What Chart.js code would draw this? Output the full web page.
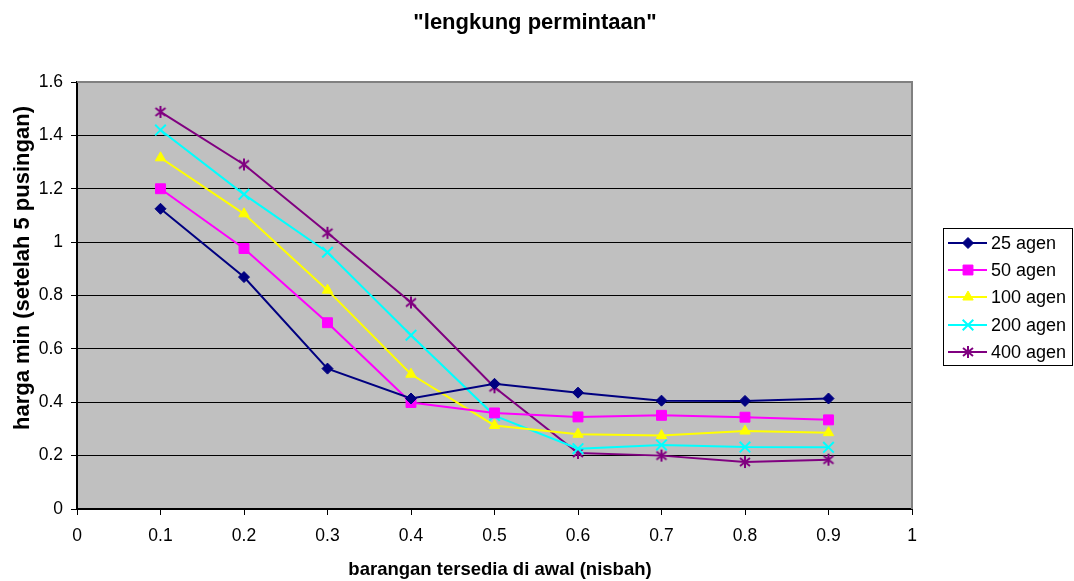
<!DOCTYPE html>
<html>
<head>
<meta charset="utf-8">
<script src="https://cdn.jsdelivr.net/npm/chart.js@4"></script>
<style>
html,body{margin:0;padding:0;background:#fff;}
#wrap{width:1074px;height:581px;position:relative;}
</style>
</head>
<body>
<div id="wrap"><canvas id="c" width="1074" height="581"></canvas></div>
<script>
const xValues = [0.1, 0.2, 0.3, 0.4, 0.5, 0.6, 0.7, 0.8, 0.9];
const seriesNames = ["25 agen", "50 agen", "100 agen", "200 agen", "400 agen"];
const agen25  = [1.125, 0.869, 0.526, 0.414, 0.469, 0.436, 0.406, 0.405, 0.414];
const agen50  = [1.200, 0.976, 0.698, 0.399, 0.360, 0.345, 0.351, 0.344, 0.334];
const agen100 = [1.316, 1.106, 0.820, 0.505, 0.313, 0.280, 0.275, 0.292, 0.286];
const agen200 = [1.420, 1.179, 0.962, 0.651, 0.350, 0.226, 0.240, 0.232, 0.231];
const agen400 = [1.488, 1.291, 1.035, 0.774, 0.456, 0.210, 0.200, 0.176, 0.185];
const titleText = '"lengkung permintaan"';
const xTitle = "barangan tersedia di awal (nisbah)";
const yTitle = "harga min (setelah 5 pusingan)";

const FONT = "'Liberation Sans', Arial, sans-serif";

function makeAsterisk(color) {
  const c = document.createElement("canvas");
  c.width = 14; c.height = 14;
  const g = c.getContext("2d");
  g.strokeStyle = color;
  g.lineWidth = 2;
  g.beginPath();
  g.moveTo(7, 1); g.lineTo(7, 13);
  g.moveTo(2, 3); g.lineTo(12, 11);
  g.moveTo(12, 3); g.lineTo(2, 11);
  g.stroke();
  return c;
}

const colors = ["#000080", "#FF00FF", "#FFFF00", "#00FFFF", "#800080"];
const styles = ["rectRot", "rect", "triangle", "crossRot", makeAsterisk("#800080")];
const radii = [5.5, 7, 6, 7.5, 7];
const allSeries = [agen25, agen50, agen100, agen200, agen400];

const datasets = allSeries.map((s, i) => ({
  label: seriesNames[i],
  data: s.map((v, j) => ({x: xValues[j], y: v})),
  borderColor: colors[i],
  backgroundColor: colors[i],
  pointBackgroundColor: colors[i],
  pointBorderColor: colors[i],
  pointStyle: styles[i],
  pointRadius: radii[i],
  pointBorderWidth: i === 3 ? 2 : 1,
  borderWidth: 2,
  tension: 0,
  fill: false
}));

const bgPlugin = {
  id: "bg",
  beforeDraw(chart) {
    const {ctx, chartArea: a} = chart;
    ctx.save();
    ctx.fillStyle = "#C0C0C0";
    ctx.fillRect(a.left, a.top, a.right - a.left, a.bottom - a.top);
    ctx.restore();
  },
  afterDatasetsDraw(chart) {
    const {ctx, chartArea: a} = chart;
    ctx.save();
    ctx.strokeStyle = "#808080";
    ctx.lineWidth = 2;
    ctx.beginPath();
    ctx.moveTo(a.left, a.top);
    ctx.lineTo(a.right, a.top);
    ctx.lineTo(a.right, a.bottom);
    ctx.stroke();
    ctx.restore();
  }
};

const textPlugin = {
  id: "texts",
  afterDraw(chart) {
    const ctx = chart.ctx;
    ctx.save();
    ctx.fillStyle = "#000";
    ctx.textAlign = "center";
    ctx.textBaseline = "alphabetic";
    ctx.font = "bold 22px " + FONT;
    ctx.fillText(titleText, 535, 29);
    ctx.font = "bold 18.5px " + FONT;
    ctx.fillText(xTitle, 500, 575);
    ctx.translate(29, 268);
    ctx.rotate(-Math.PI / 2);
    ctx.font = "bold 22px " + FONT;
    ctx.fillText(yTitle, 0, 0);
    ctx.restore();
  }
};

const legendPlugin = {
  id: "customLegend",
  afterDraw(chart) {
    const ctx = chart.ctx;
    const bx = 943, by = 228, bw = 130, bh = 138;
    ctx.save();
    ctx.fillStyle = "#fff";
    ctx.fillRect(bx, by, bw, bh);
    ctx.strokeStyle = "#000";
    ctx.lineWidth = 1;
    ctx.strokeRect(bx + 0.5, by + 0.5, bw - 1, bh - 1);
    const ys = [243, 270, 297, 325, 352];
    chart.data.datasets.forEach((ds, i) => {
      const y = ys[i];
      ctx.strokeStyle = ds.borderColor;
      ctx.lineWidth = 2;
      ctx.beginPath();
      ctx.moveTo(948, y);
      ctx.lineTo(987, y);
      ctx.stroke();
      ctx.fillStyle = ds.pointBackgroundColor;
      ctx.strokeStyle = ds.pointBorderColor;
      ctx.lineWidth = ds.pointBorderWidth;
      Chart.helpers.drawPoint(ctx, {
        pointStyle: ds.pointStyle,
        radius: ds.pointRadius,
        borderWidth: ds.pointBorderWidth,
        rotation: 0
      }, 968, y);
      ctx.fillStyle = "#000";
      ctx.font = "18px " + FONT;
      ctx.textBaseline = "middle";
      ctx.textAlign = "left";
      ctx.fillText(ds.label, 991, y + 1);
    });
    ctx.restore();
  }
};

new Chart(document.getElementById("c"), {
  type: "line",
  data: {datasets},
  plugins: [bgPlugin, legendPlugin, textPlugin],
  options: {
    responsive: false,
    animation: false,
    devicePixelRatio: 1,
    layout: {padding: {left: 0, right: 162, top: 82, bottom: 0}},
    plugins: {
      legend: {display: false},
      tooltip: {enabled: false},
      title: {display: false}
    },
    scales: {
      x: {
        type: "linear",
        min: 0, max: 1,
        afterFit(scale) { scale.height = 72; },
        ticks: {
          stepSize: 0.1,
          color: "#000",
          font: {family: FONT, size: 17.5},
          padding: 11,
          maxRotation: 0,
          autoSkip: false,
          callback: v => (Math.round(v * 10) / 10).toString()
        },
        grid: {drawOnChartArea: false, drawTicks: true, tickLength: 6, color: "#000"},
        border: {color: "#000", width: 2}
      },
      y: {
        min: 0, max: 1.6,
        afterFit(scale) { scale.width = 77; },
        ticks: {
          stepSize: 0.2,
          color: "#000",
          font: {family: FONT, size: 17.5},
          padding: 8,
          callback: v => (Math.round(v * 10) / 10).toString()
        },
        grid: {color: "#000", lineWidth: 1, tickLength: 6},
        border: {color: "#000", width: 2}
      }
    }
  }
});
</script>
</body>
</html>
